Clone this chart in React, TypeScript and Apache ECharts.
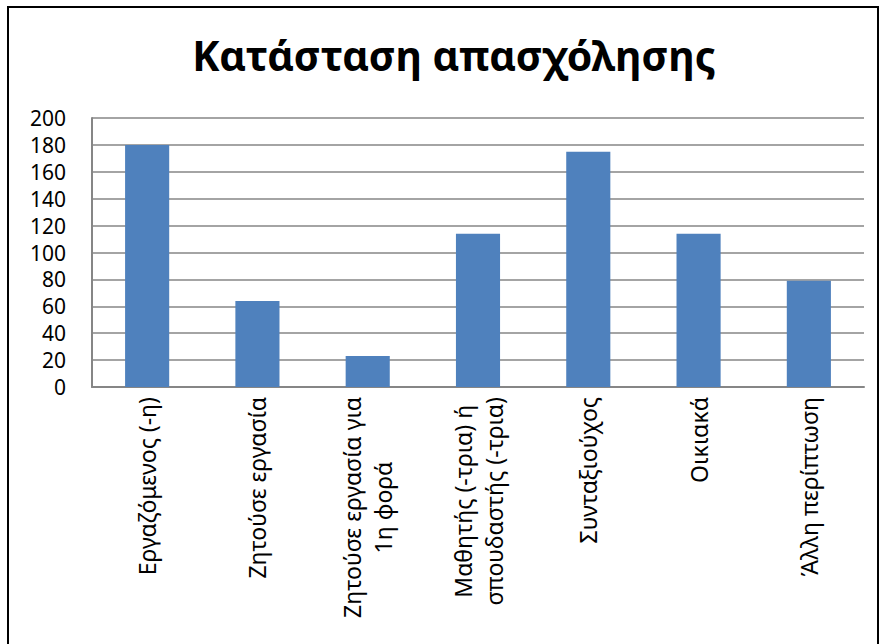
import React, { useEffect, useRef } from "react";
import * as echarts from "echarts";

const titleText = "Κατάσταση απασχόλησης";
const categories = [
  "Εργαζόμενος (-η)",
  "Ζητούσε εργασία",
  "Ζητούσε εργασία για\n1η φορά",
  "Μαθητής (-τρια) ή\nσπουδαστής (-τρια)",
  "Συνταξιούχος",
  "Οικιακά",
  "Άλλη περίπτωση",
];
const values = [180, 64, 23, 114, 175, 114, 79];
const yMin = 0;
const yMax = 200;
const yStep = 20;

export default function App() {
  const ref = useRef<HTMLDivElement>(null);
  useEffect(() => {
    if (!ref.current) return;
    const chart = echarts.init(ref.current, null, { renderer: "svg" });
    const font = "Noto Sans";
    chart.setOption({
      animation: false,
      backgroundColor: "#ffffff",
      title: {
        text: titleText,
        left: 449,
        top: 29,
        textAlign: "center",
        textStyle: { fontFamily: font, fontWeight: "bold", fontSize: 41, color: "#000" },
      },
      grid: { left: 92, right: 19, top: 118, bottom: 257, containLabel: false },
      xAxis: {
        type: "category",
        data: categories,
        axisLine: { lineStyle: { color: "#868686", width: 2 } },
        axisTick: { show: false },
        axisLabel: {
          rotate: 90,
          interval: 0,
          margin: 10,
          color: "#000",
          fontFamily: font,
          fontSize: 23,
          lineHeight: 31,
          formatter: (v: string) =>
            v
              .split("\n")
              .map((l) => "{c|" + l + "}")
              .join("\n"),
          rich: { c: { align: "center", fontFamily: font, fontSize: 23, color: "#000", lineHeight: 31 } },
        },
      },
      yAxis: {
        type: "value",
        min: yMin,
        max: yMax,
        interval: yStep,
        axisLine: { show: true, lineStyle: { color: "#868686", width: 2 } },
        axisTick: { show: false },
        splitLine: { lineStyle: { color: "#868686", width: 1.5 } },
        axisLabel: { margin: 26, color: "#000", fontFamily: font, fontSize: 21, lineHeight: 13 },
      },
      series: [
        {
          type: "bar",
          data: values,
          barWidth: "40%",
          itemStyle: { color: "#4F81BD" },
        },
      ],
      graphic: [
        {
          type: "rect",
          shape: { x: 8, y: 7, width: 870, height: 660 },
          style: { fill: "none", stroke: "#000", lineWidth: 2 },
          silent: true,
        },
      ],
    });
    return () => chart.dispose();
  }, []);
  return (
    <div
      ref={ref}
      style={{ position: "absolute", left: 0, top: 0, width: 883, height: 644 }}
    />
  );
}
